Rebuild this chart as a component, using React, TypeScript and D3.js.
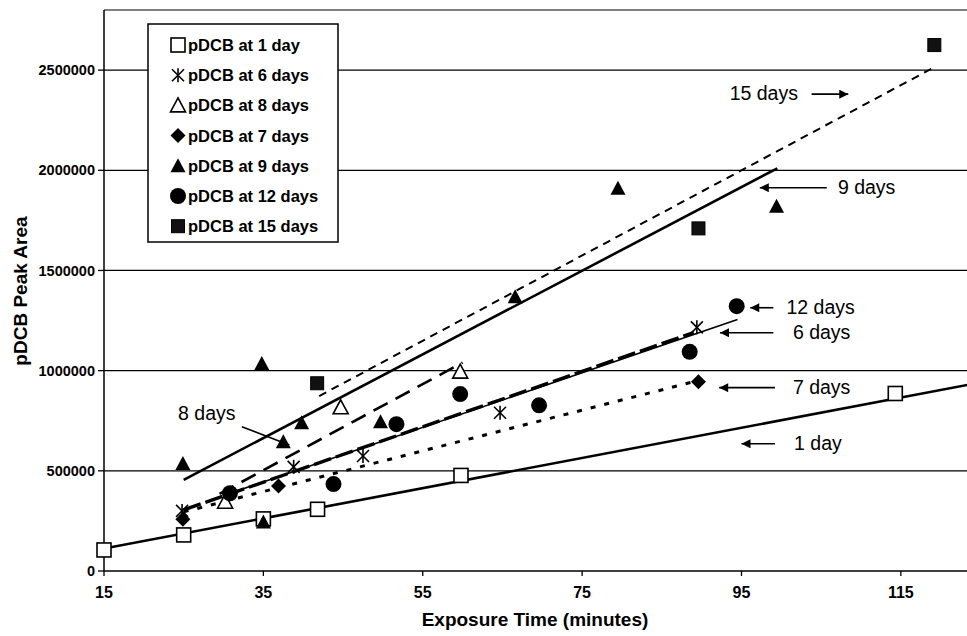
import React from "react";
import * as d3 from "d3";

// ---------- data ----------
const xTicks = [15, 35, 55, 75, 95, 115];
const yTicks = [0, 500000, 1000000, 1500000, 2000000, 2500000];

const day1Pts: [number, number][] = [[15, 105000], [25, 180000], [35, 260000], [41.8, 308000], [59.8, 477000], [114.3, 886000]];
const day6Pts: [number, number][] = [[24.8, 300000], [38.8, 520000], [47.5, 574000], [64.7, 790000], [89.4, 1216000]];
const day8Pts: [number, number][] = [[30.2, 346000], [44.7, 817000], [59.7, 995000]];
const day7Pts: [number, number][] = [[24.9, 258000], [36.9, 424000], [89.6, 945000]];
const day9Pts: [number, number][] = [[24.9, 537000], [34.8, 1036000], [35, 245000], [37.5, 645000], [39.8, 740000], [49.7, 745000], [66.6, 1369000], [79.5, 1910000], [99.4, 1821000]];
const day12Pts: [number, number][] = [[30.8, 388000], [43.8, 434000], [51.7, 733000], [59.7, 883000], [69.6, 827000], [88.5, 1094000], [94.4, 1322000]];
const day15Pts: [number, number][] = [[41.75, 937000], [89.6, 1710000], [119.2, 2625000]];

// fitted trend lines (start / end in data units)
const day1Trend: [number, number][] = [[15, 112000], [125, 941000]];
const day6Trend: [number, number][] = [[25, 305000], [89, 1190000]];
const day8Trend: [number, number][] = [[29.5, 385000], [60, 1040000]];
const day7Trend: [number, number][] = [[25, 295000], [89.5, 950000]];
const day9Trend: [number, number][] = [[25, 455000], [99.5, 2010000]];
const day12Trend: [number, number][] = [[31, 390000], [94.5, 1255000]];
const day15Trend: [number, number][] = [[42, 873000], [119, 2510000]];

const legendLabels = ["pDCB at 1 day", "pDCB at 6 days", "pDCB at 8 days", "pDCB at 7 days", "pDCB at 9 days", "pDCB at 12 days", "pDCB at 15 days"];

// annotations: label, text x, text y, arrow from x, arrow to x, anchor
const annoLabels = ["15 days", "9 days", "12 days", "6 days", "7 days", "1 day"];
const annoTextX = [97.8, 107.1, 100.65, 101.45, 101.45, 101.6];
const annoY = [2385000, 1918000, 1319000, 1194000, 920000, 640000];
const annoArrowFrom = [103.8, 105.7, 99.0, 99.0, 99.2, 99.2];
const annoArrowTo = [108.4, 97.3, 96.1, 92.3, 92.2, 95.0];
const annoAnchor = ["middle", "start", "start", "start", "start", "start"];
const anno8Text: [number, number] = [27.9, 790000];
const anno8Arrow: [number, number][] = [[32.3, 720000], [38.25, 629000]];

// ---------- layout ----------
const W = 967, H = 636;
const L = 104, R = 967, T = 10, B = 571;
const FONT = "'Liberation Sans', Arial, Helvetica, sans-serif";

const x = d3.scaleLinear().domain([15, 123.3]).range([L, R]);
const y = d3.scaleLinear().domain([0, 2800000]).range([B, T]);

type MType = "sq" | "star" | "otri" | "dia" | "tri" | "circ" | "fsq";

function Marker({ t, cx, cy }: { t: MType; cx: number; cy: number }) {
  const tr = `translate(${cx},${cy})`;
  switch (t) {
    case "sq":
      return <rect transform={tr} x={-7} y={-7} width={14} height={14} fill="#fff" stroke="#000" strokeWidth={1.6} />;
    case "fsq":
      return <rect transform={tr} x={-6.5} y={-6.5} width={13} height={13} fill="#111" stroke="#000" strokeWidth={1} />;
    case "star":
      return (
        <g transform={tr} stroke="#000" strokeWidth={1.6}>
          <line x1={-6} y1={-6} x2={6} y2={6} />
          <line x1={-6} y1={6} x2={6} y2={-6} />
          <line x1={0} y1={-7} x2={0} y2={7} />
        </g>
      );
    case "otri":
      return <path transform={tr} d="M0,-7.5L7.5,6.5L-7.5,6.5Z" fill="#fff" stroke="#000" strokeWidth={1.6} />;
    case "tri":
      return <path transform={tr} d="M0,-7.5L7.5,6.5L-7.5,6.5Z" fill="#000" />;
    case "dia":
      return <path transform={tr} d="M0,-7.5L7.5,0L0,7.5L-7.5,0Z" fill="#000" />;
    case "circ":
      return <circle transform={tr} r={8} fill="#000" />;
  }
  return null;
}

const series: { pts: [number, number][]; trend: [number, number][]; m: MType; w: number; dash: string }[] = [
  { pts: day1Pts, trend: day1Trend, m: "sq", w: 2.6, dash: "" },
  { pts: day6Pts, trend: day6Trend, m: "star", w: 3.4, dash: "18 5" },
  { pts: day8Pts, trend: day8Trend, m: "otri", w: 2.6, dash: "16 9" },
  { pts: day7Pts, trend: day7Trend, m: "dia", w: 3, dash: "5 9" },
  { pts: day9Pts, trend: day9Trend, m: "tri", w: 2.6, dash: "" },
  { pts: day12Pts, trend: day12Trend, m: "circ", w: 1.6, dash: "" },
  { pts: day15Pts, trend: day15Trend, m: "fsq", w: 2, dash: "8 6" },
];

const line = d3.line<[number, number]>().x((d) => x(d[0])).y((d) => y(d[1]));

export default function App() {
  return (
    <svg width={W} height={H} style={{ position: "absolute", left: 0, top: 0, background: "#fff" }} fontFamily={FONT}>
      <defs>
        <clipPath id="plot">
          <rect x={L} y={T} width={R - L} height={B - T} />
        </clipPath>
        <marker id="ah" viewBox="0 0 10 10" refX="10" refY="5" markerWidth="11" markerHeight="9" markerUnits="userSpaceOnUse" orient="auto">
          <path d="M0,0L10,5L0,10Z" fill="#000" />
        </marker>
      </defs>
      <rect x={0} y={0} width={W} height={H} fill="#fff" />

      {/* gridlines */}
      {yTicks.filter((v) => v > 0).map((v) => (
        <line key={v} x1={L} x2={R} y1={y(v)} y2={y(v)} stroke="#000" strokeWidth={1.2} />
      ))}
      {/* frame */}
      <line x1={L} x2={R} y1={T} y2={T} stroke="#000" strokeWidth={1.2} />
      <line x1={L} x2={L} y1={T} y2={B} stroke="#000" strokeWidth={1.5} />
      <line x1={L} x2={R} y1={B} y2={B} stroke="#000" strokeWidth={1.5} />

      {/* y ticks */}
      {yTicks.map((v) => (
        <g key={v}>
          <line x1={L - 6} x2={L} y1={y(v)} y2={y(v)} stroke="#000" strokeWidth={1.3} />
          <text x={L - 9} y={y(v)} dy="0.35em" textAnchor="end" fontSize={14.5} fontWeight="bold">
            {v}
          </text>
        </g>
      ))}
      {/* x ticks */}
      {xTicks.map((v) => (
        <g key={v}>
          <line x1={x(v)} x2={x(v)} y1={B} y2={B + 5} stroke="#000" strokeWidth={1.3} />
          <text x={x(v)} y={B + 27} textAnchor="middle" fontSize={16} fontWeight="bold">
            {v}
          </text>
        </g>
      ))}
      <text x={535} y={626} textAnchor="middle" fontSize={19} fontWeight="bold">
        Exposure Time (minutes)
      </text>
      <text transform={`translate(27,291) rotate(-90)`} textAnchor="middle" fontSize={19} fontWeight="bold">
        pDCB Peak Area
      </text>

      {/* trend lines */}
      <g clipPath="url(#plot)">
        {series.map((s, i) => (
          <path key={i} d={line(s.trend) || ""} fill="none" stroke="#000" strokeWidth={s.w} strokeDasharray={s.dash || undefined} />
        ))}
      </g>

      {/* points */}
      <g>
        {series.map((s, i) => (
          <g key={i}>
            {s.pts.map((p, j) => (
              <Marker key={j} t={s.m} cx={x(p[0])} cy={y(p[1])} />
            ))}
          </g>
        ))}
      </g>

      {/* legend */}
      <rect x={148} y={24} width={190} height={218} fill="#fff" stroke="#000" strokeWidth={1.5} />
      {legendLabels.map((lab, i) => (
        <g key={lab}>
          <Marker t={series[i].m} cx={178} cy={45 + i * 30.2} />
          <text x={188} y={45 + i * 30.2} dy="0.36em" fontSize={16.5} fontWeight="bold">
            {lab}
          </text>
        </g>
      ))}

      {/* annotations */}
      {annoLabels.map((lab, i) => (
        <g key={lab}>
          <text x={x(annoTextX[i])} y={y(annoY[i])} dy="0.36em" textAnchor={annoAnchor[i] as any} fontSize={19.5}>
            {lab}
          </text>
          <line x1={x(annoArrowFrom[i])} x2={x(annoArrowTo[i])} y1={y(annoY[i]) + 1} y2={y(annoY[i]) + 1} stroke="#000" strokeWidth={1.6} markerEnd="url(#ah)" />
        </g>
      ))}
      <text x={x(anno8Text[0])} y={y(anno8Text[1])} dy="0.36em" textAnchor="middle" fontSize={19.5}>
        8 days
      </text>
      <line x1={x(anno8Arrow[0][0])} y1={y(anno8Arrow[0][1])} x2={x(anno8Arrow[1][0])} y2={y(anno8Arrow[1][1])} stroke="#000" strokeWidth={1.6} markerEnd="url(#ah)" />
    </svg>
  );
}
